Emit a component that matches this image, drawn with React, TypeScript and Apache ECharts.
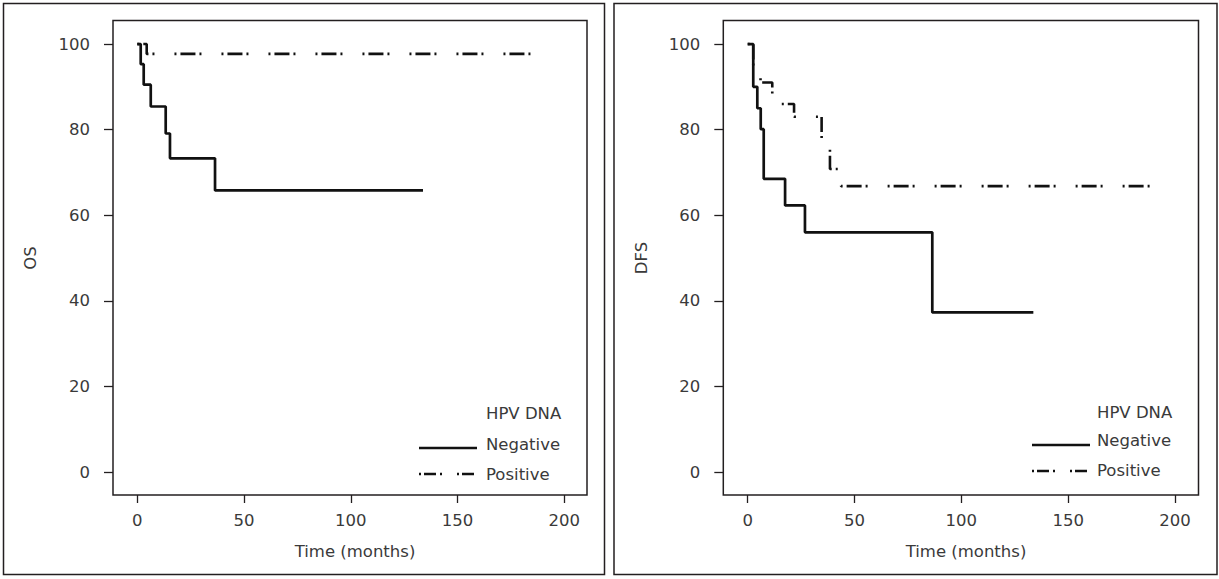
import React, { useEffect, useRef } from "react";
import * as echarts from "echarts";

// OS (left panel)
const osNegTimes = [0, 1.6, 3.0, 6.3, 13.3, 15.3, 36.4, 133.8];
const osNegSurv = [100, 95.3, 90.5, 85.4, 79.1, 73.3, 65.8, 65.8];
const osPosTimes = [0, 4.4, 184.8];
const osPosSurv = [100, 97.7, 97.7];

// DFS (right panel)
const dfsNegTimes = [0, 2.6, 4.5, 6.1, 7.5, 17.5, 26.8, 86.4, 133.7];
const dfsNegSurv = [100, 90.0, 85.0, 80.1, 68.5, 62.3, 56.0, 37.3, 37.3];
const dfsPosTimes = [0, 2.6, 6.0, 11.5, 21.7, 34.6, 38.5, 43.7, 189.0];
const dfsPosSurv = [100, 93.3, 91.0, 86.0, 83.0, 75.3, 70.8, 66.8, 66.8];

const xTicks = [0, 50, 100, 150, 200];
const yTicks = [0, 20, 40, 60, 80, 100];
const xTitle = "Time (months)";
const yTitles = ["OS", "DFS"];
const legendTitle = "HPV DNA";
const groupNames = ["Negative", "Positive"];

const INK = "#231f20";
const TXT = "#3a3a3a";
const FONT = "DejaVu Sans";
const FS = 16.5;
const DASH = [2, 4, 15, 4, 2, 20];
const LEG_DASH = [2, 3, 12, 4, 2, 15];

const pts = (t: number[], s: number[]) => t.map((v, i) => [v, s[i]]);

export default function App() {
  const ref = useRef<HTMLDivElement>(null);
  useEffect(() => {
    if (!ref.current) return;
    const chart = echarts.init(ref.current, undefined, { renderer: "svg" });

    const mkX = (gi: number, min: number, max: number) => ({
      gridIndex: gi,
      type: "value",
      min,
      max,
      axisLine: { show: false, onZero: false },
      splitLine: { show: false },
      axisTick: { show: true, customValues: xTicks, length: 8, lineStyle: { color: INK, width: 1.3 } },
      axisLabel: { customValues: xTicks, margin: 17, fontSize: FS, color: TXT, fontFamily: FONT },
    });
    const mkY = (gi: number) => ({
      gridIndex: gi,
      type: "value",
      min: -5.37,
      max: 105.5,
      axisLine: { show: false, onZero: false },
      splitLine: { show: false },
      axisTick: { show: true, customValues: yTicks, length: 9, lineStyle: { color: INK, width: 1.3 } },
      axisLabel: { customValues: yTicks, margin: 23, fontSize: FS, color: TXT, fontFamily: FONT },
    });
    const line = (xi: number, data: number[][], dashed: boolean) => ({
      type: "line",
      xAxisIndex: xi,
      yAxisIndex: xi,
      step: "end",
      symbol: "none",
      data,
      lineStyle: { color: "#111", width: dashed ? 2.6 : 2.7, type: dashed ? DASH : "solid", cap: "butt" },
    });
    const txt = (x: number, y: number, text: string, extra: any = {}) => ({
      type: "text",
      x,
      y,
      style: { text, fontSize: FS, fontFamily: FONT, fill: TXT, textAlign: "left", textVerticalAlign: "middle", ...extra },
    });
    const legend = (lx: number, tx: number, yH: number, yN: number, yNl: number, yP: number, yPl: number) => [
      txt(tx, yH, legendTitle),
      txt(tx, yN, groupNames[0]),
      txt(tx, yP, groupNames[1]),
      { type: "line", shape: { x1: lx, y1: yNl, x2: lx + 58, y2: yNl }, style: { stroke: "#111", lineWidth: 2.7 } },
      { type: "line", shape: { x1: lx, y1: yPl, x2: lx + 58, y2: yPl }, style: { stroke: "#111", lineWidth: 2.6, lineDash: LEG_DASH } },
    ];

    chart.setOption({
      animation: false,
      backgroundColor: "#fff",
      grid: [
        { left: 113, top: 20.5, width: 474, height: 474.5, show: true, borderColor: INK, borderWidth: 1.5, containLabel: false },
        { left: 723.3, top: 20.5, width: 475.2, height: 474.5, show: true, borderColor: INK, borderWidth: 1.5, containLabel: false },
      ],
      xAxis: [mkX(0, -11.38, 210.6), mkX(1, -11.42, 211.0)],
      yAxis: [mkY(0), mkY(1)],
      series: [
        line(0, pts(osNegTimes, osNegSurv), false),
        line(0, pts(osPosTimes, osPosSurv), true),
        line(1, pts(dfsNegTimes, dfsNegSurv), false),
        line(1, pts(dfsPosTimes, dfsPosSurv), true),
      ],
      graphic: [
        { type: "rect", shape: { x: 3.5, y: 3.5, width: 601, height: 571 }, style: { fill: "none", stroke: INK, lineWidth: 1.5 } },
        { type: "rect", shape: { x: 614, y: 3.5, width: 603, height: 571 }, style: { fill: "none", stroke: INK, lineWidth: 1.5 } },
        txt(355, 551, xTitle, { textAlign: "center" }),
        txt(966, 551, xTitle, { textAlign: "center" }),
        { ...txt(30, 258, yTitles[0], { textAlign: "center" }), rotation: Math.PI / 2 },
        { ...txt(641, 258, yTitles[1], { textAlign: "center" }), rotation: Math.PI / 2 },
        ...legend(419, 486, 413, 444, 448, 474, 474),
        ...legend(1032, 1097, 412, 440, 445, 470, 471),
      ],
    });
    return () => chart.dispose();
  }, []);
  return <div ref={ref} style={{ position: "absolute", left: 0, top: 0, width: 1219, height: 579 }} />;
}
